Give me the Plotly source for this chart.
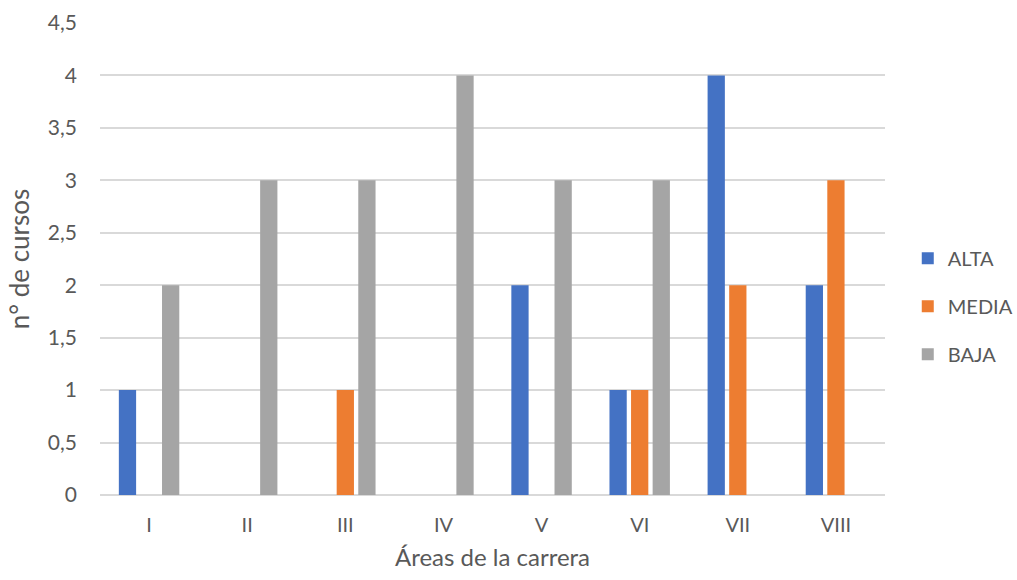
import plotly.graph_objects as go

# Career areas and number of courses per difficulty level
areas = ["I", "II", "III", "IV", "V", "VI", "VII", "VIII"]
alta = [1, 0, 0, 0, 2, 1, 4, 2]
media = [0, 0, 1, 0, 0, 1, 2, 3]
baja = [2, 3, 3, 4, 3, 3, 0, 0]

y_ticks = [0, 0.5, 1, 1.5, 2, 2.5, 3, 3.5, 4, 4.5]
y_labels = ["0", "0,5", "1", "1,5", "2", "2,5", "3", "3,5", "4", "4,5"]

series = [
    ("ALTA", alta, "#4472C4"),
    ("MEDIA", media, "#ED7D31"),
    ("BAJA", baja, "#A5A5A5"),
]

FONT = "Lato, 'Open Sans', sans-serif"
GREY = "#595959"

fig = go.Figure()
for name, vals, color in series:
    fig.add_trace(go.Bar(
        x=areas, y=vals, name=name, legendgroup=name,
        marker=dict(color=color, line=dict(width=0)),
    ))

fig.update_layout(
    width=1017, height=580,
    margin=dict(l=100, r=132, t=23, b=85, autoexpand=False),
    paper_bgcolor="white", plot_bgcolor="white",
    barmode="group", bargap=0.34, bargroupgap=0.2,
    font=dict(family=FONT, color=GREY, size=20),
    legend=dict(
        x=1.029, y=0.40, xanchor="left", yanchor="middle",
        font=dict(size=20, color=GREY), tracegroupgap=19,
        itemwidth=30, bgcolor="rgba(0,0,0,0)",
    ),
    showlegend=True,
)

fig.update_xaxes(
    title=dict(text="Áreas de la carrera", font=dict(size=24, color=GREY), standoff=14),
    showgrid=False, showline=False, ticks="",
    ticklabelstandoff=16,
    tickfont=dict(size=20, color=GREY),
)
fig.update_yaxes(
    title=dict(text="n° de cursos", font=dict(size=26, color=GREY), standoff=10),
    range=[0, 4.5], tickvals=y_ticks, ticktext=y_labels,
    showgrid=True, gridcolor="#D9D9D9", gridwidth=1.5,
    zeroline=True, zerolinecolor="#D9D9D9", zerolinewidth=1.5,
    showline=False, ticks="", ticklabelstandoff=22,
    tickfont=dict(size=21, color=GREY),
)

fig.write_html("out.html")
